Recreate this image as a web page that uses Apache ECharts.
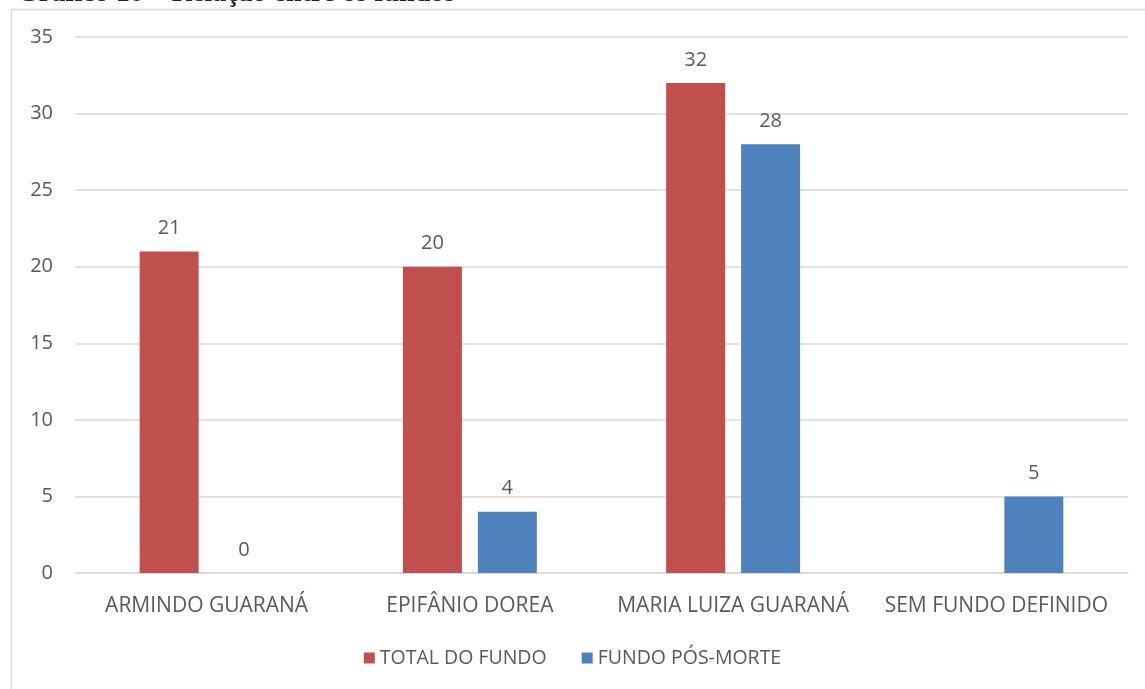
<!DOCTYPE html>
<html>
<head>
<meta charset="utf-8">
<script src="https://cdn.jsdelivr.net/npm/echarts@6/dist/echarts.min.js"></script>
<style>
  html, body { margin: 0; padding: 0; background: #fff; }
  #chart { width: 1145px; height: 689px; }
</style>
</head>
<body>
<div id="chart"></div>
<script>
// dados do gráfico
const categorias = ['ARMINDO GUARANÁ', 'EPIFÂNIO DOREA', 'MARIA LUIZA GUARANÁ', 'SEM FUNDO DEFINIDO'];
const totalDoFundo = [21, 20, 32, null];
const fundoPosMorte = [0, 4, 28, 5];
const nomesSeries = ['TOTAL DO FUNDO', 'FUNDO PÓS-MORTE'];
const titulo = 'Gráfico 10 – Relação entre os fundos';

const fonte = '"Open Sans", "Noto Sans", sans-serif';
const cinza = '#595959';

const chart = echarts.init(document.getElementById('chart'));

const rotulo = {
    show: true,
    position: 'top',
    distance: 13,
    color: cinza,
    fontSize: 20,
    fontFamily: fonte
};

chart.setOption({
    animation: false,
    graphic: [
        {
            type: 'rect',
            shape: { x: 11.5, y: 9.5, width: 1200, height: 800 },
            style: { fill: 'none', stroke: '#d9d9d9', lineWidth: 1.5 },
            silent: true
        },
        {
            type: 'text',
            left: 17,
            top: -20,
            style: {
                text: titulo,
                font: 'bold 28px "Liberation Serif", "DejaVu Serif", serif',
                fill: '#222'
            }
        }
    ],
    grid: { left: 75, right: 17, top: 37, bottom: 116 },
    legend: {
        data: nomesSeries,
        bottom: 16,
        left: 'center',
        itemWidth: 11,
        itemHeight: 11,
        itemGap: 35,
        icon: 'rect',
        textStyle: { color: cinza, fontSize: 19.5, fontFamily: fonte }
    },
    xAxis: {
        type: 'category',
        data: categorias,
        axisLine: { lineStyle: { color: '#d9d9d9', width: 1.5 } },
        axisTick: { show: false },
        axisLabel: { color: cinza, fontSize: 21, fontFamily: fonte, margin: 23, interval: 0 }
    },
    yAxis: {
        type: 'value',
        min: 0,
        max: 35,
        interval: 5,
        axisLine: { show: false },
        axisTick: { show: false },
        splitLine: { lineStyle: { color: '#d9d9d9', width: 1.5 } },
        axisLabel: { color: cinza, fontSize: 20, fontFamily: fonte, margin: 22 }
    },
    series: [
        {
            name: nomesSeries[0],
            type: 'bar',
            data: totalDoFundo,
            barWidth: 59,
            barGap: '27%',
            itemStyle: { color: '#C0504D' },
            label: rotulo
        },
        {
            name: nomesSeries[1],
            type: 'bar',
            data: fundoPosMorte,
            barWidth: 59,
            itemStyle: { color: '#4F81BD' },
            label: rotulo
        }
    ]
});
</script>
</body>
</html>
